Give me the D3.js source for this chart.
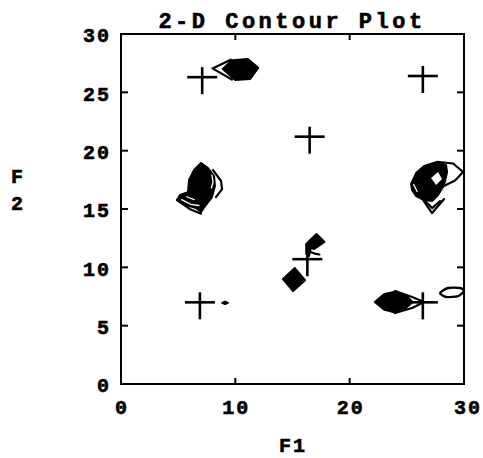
<!DOCTYPE html>
<html>
<head>
<meta charset="utf-8">
<script src="https://cdn.jsdelivr.net/npm/d3@7"></script>
<style>
  html, body { margin: 0; padding: 0; background: #fff; }
  svg text { font-family: "Liberation Mono", "Courier New", monospace; font-weight: bold; fill: #000; stroke: #000; stroke-width: 0.6px; }
</style>
</head>
<body>
<svg id="chart" width="483" height="458"></svg>
<script>
// ---------- data ----------
const titleText = "2-D Contour Plot";
const xLabel = "F1";
const yLabelChars = ["F", "2"];
const xTicks = [0, 10, 20, 30];
const yTicks = [0, 5, 10, 15, 20, 25, 30];
const frameTicksX = [10, 20];
const frameTicksY = [5, 10, 15, 20, 25];

// cross-peak markers (F1, F2)
const crossPeaks = [[7.1, 26.3], [26.4, 26.4], [16.5, 21.2], [16.3, 10.7], [6.9, 7.0], [26.4, 7.0]];

// filled (innermost) contour regions
const fillTop = [[8.9, 27.0], [9.7, 27.75], [11.1, 27.85], [12.0, 27.1], [11.3, 26.15], [10.0, 26.05]];
const fillLeft = [[7.0, 18.94], [7.61, 18.51], [8.14, 17.82], [8.22, 16.97], [7.96, 16.02], [7.35, 15.25], [7.0, 14.74], [6.56, 15.08], [5.69, 15.34], [4.9, 15.77], [5.16, 16.2], [5.86, 16.45], [5.95, 17.48], [6.39, 18.34]];
const fillRight = [[25.37, 17.14], [25.81, 18.08], [26.51, 18.68], [27.56, 19.02], [28.43, 18.77], [28.52, 18.17], [28.26, 17.05], [27.73, 16.2], [27.21, 15.68], [26.51, 15.77], [25.81, 16.11], [25.46, 16.62]];
const fillDiamond = [[14.17, 9.0], [15.2, 9.94], [16.1, 8.9], [15.05, 7.97]];
const fillSmall = [[17.1, 12.85], [17.8, 12.17], [16.9, 11.57], [16.6, 11.65], [16.45, 10.97], [16.2, 11.14], [16.2, 12.0]];
const fillBottom = [[22.2, 7.03], [23.0, 7.7], [23.97, 7.92], [24.9, 7.6], [25.5, 7.03], [24.9, 6.5], [23.97, 6.12], [23.0, 6.38]];
const fillDot = [[8.85, 6.95], [9.1, 7.05], [9.35, 6.95], [9.1, 6.85]];
const fillRegions = [fillTop, fillLeft, fillRight, fillDiamond, fillSmall, fillBottom, fillDot];

// outer contour lines (open paths)
const lineTop = [[9.6, 27.8], [8.0, 27.05], [9.7, 26.1]];
const lineLeftRight = [[8.05, 18.34], [8.75, 17.4], [8.84, 16.71], [8.31, 16.02]];
const lineLeftLow = [[4.9, 15.77], [6.1, 14.95], [7.0, 14.6]];
const lineRightArc = [[27.65, 19.05], [29.05, 18.9], [29.92, 18.17], [29.22, 17.45], [28.2, 16.95]];
const lineRightV1 = [[26.25, 16.02], [27.21, 14.65], [28.26, 15.85]];
const lineRightV2 = [[26.6, 15.68], [27.21, 15.08], [27.91, 15.68]];
const lineSmall = [[16.65, 11.3], [17.05, 11.15], [17.35, 11.1]];
const lineBottom = [[23.97, 7.97], [25.46, 7.46], [26.51, 7.03], [25.46, 6.51], [23.97, 6.08]];
const contourLines = [lineTop, lineLeftRight, lineLeftLow, lineRightArc, lineRightV1, lineRightV2, lineSmall, lineBottom];

// closed contour loop (far right)
const loopFarRight = [[27.91, 7.8], [28.61, 8.23], [29.66, 8.23], [30.0, 7.97], [29.48, 7.54], [28.43, 7.46]];

// white gaps inside filled regions
const holeRight = [[27.12, 17.65], [27.73, 18.17], [28.08, 17.57], [27.56, 17.05]];
const gapLeft1 = [[5.3, 15.8], [6.12, 15.4], [6.82, 15.3]];
const gapLeft2 = [[5.75, 16.05], [6.39, 15.8]];
const gapLeftRight = [[7.95, 17.9], [8.05, 17.3], [7.9, 16.8]];
const gapRight = [[25.6, 17.1], [25.9, 16.5]];

// ---------- drawing ----------
const svg = d3.select("#chart");
const x = d3.scaleLinear().domain([0, 30]).range([121, 464]);
const y = d3.scaleLinear().domain([0, 30]).range([384, 34]);

const lineGen = d3.line().x(d => x(d[0])).y(d => y(d[1]));
const closedGen = d3.line().x(d => x(d[0])).y(d => y(d[1])).curve(d3.curveLinearClosed);
const smoothClosed = d3.line().x(d => x(d[0])).y(d => y(d[1])).curve(d3.curveCardinalClosed.tension(0.3));

// fills
svg.append("g").selectAll("path").data(fillRegions).join("path")
  .attr("d", closedGen)
  .attr("fill", "#000").attr("stroke", "#000").attr("stroke-width", 2)
  .attr("stroke-linejoin", "round");

// contour lines
svg.append("g").selectAll("path").data(contourLines).join("path")
  .attr("d", lineGen)
  .attr("fill", "none").attr("stroke", "#000").attr("stroke-width", 2.2)
  .attr("stroke-linejoin", "round").attr("stroke-linecap", "round");

svg.append("path").datum(loopFarRight)
  .attr("d", smoothClosed)
  .attr("fill", "none").attr("stroke", "#000").attr("stroke-width", 2.4);

// white gaps
svg.append("path").datum(holeRight).attr("d", closedGen).attr("fill", "#fff");
svg.append("g").selectAll("path").data([gapLeft1, gapLeft2, gapLeftRight, gapRight]).join("path")
  .attr("d", lineGen).attr("fill", "none").attr("stroke", "#fff").attr("stroke-width", 1.3)
  .attr("stroke-linecap", "round");

// cross peaks
const cross = svg.append("g").attr("stroke", "#000").attr("stroke-width", 2.6);
crossPeaks.forEach(p => {
  const cx = x(p[0]), cy = y(p[1]);
  cross.append("line").attr("x1", cx - 15).attr("x2", cx + 15).attr("y1", cy).attr("y2", cy);
  cross.append("line").attr("x1", cx).attr("x2", cx).attr("y1", cy - 10).attr("y2", cy + 17);
});

// frame
svg.append("rect")
  .attr("x", x(0)).attr("y", y(30))
  .attr("width", x(30) - x(0)).attr("height", y(0) - y(30))
  .attr("fill", "none").attr("stroke", "#000").attr("stroke-width", 2);

// frame ticks (inward)
const tk = svg.append("g").attr("stroke", "#000").attr("stroke-width", 2);
frameTicksY.forEach(v => {
  tk.append("line").attr("x1", x(0)).attr("x2", x(0) + 7).attr("y1", y(v)).attr("y2", y(v));
  tk.append("line").attr("x1", x(30)).attr("x2", x(30) - 7).attr("y1", y(v)).attr("y2", y(v));
});
frameTicksX.forEach(v => {
  tk.append("line").attr("x1", x(v)).attr("x2", x(v)).attr("y1", y(0)).attr("y2", y(0) - 6);
  tk.append("line").attr("x1", x(v)).attr("x2", x(v)).attr("y1", y(30)).attr("y2", y(30) + 6);
});

// y tick labels
svg.append("g").selectAll("text").data(yTicks).join("text")
  .attr("x", 111).attr("y", d => y(d) + 1).attr("dy", "0.36em")
  .attr("text-anchor", "end")
  .attr("font-size", 20).attr("letter-spacing", 2)
  .text(d => d);

// x tick labels
svg.append("g").selectAll("text").data(xTicks).join("text")
  .attr("x", d => x(d) + (d === 30 ? 4 : 1)).attr("y", 414)
  .attr("text-anchor", "middle")
  .attr("font-size", 20).attr("letter-spacing", 2)
  .text(d => d);

// title
svg.append("text").attr("x", 292).attr("y", 28).attr("text-anchor", "middle")
  .attr("font-size", 22).attr("letter-spacing", 3.5)
  .text(titleText);

// axis labels
svg.append("text").attr("x", 293).attr("y", 452).attr("text-anchor", "middle")
  .attr("font-size", 20).attr("letter-spacing", 2)
  .text(xLabel);
svg.append("g").selectAll("text").data(yLabelChars).join("text")
  .attr("x", 17).attr("y", (d, i) => 183 + i * 27).attr("text-anchor", "middle")
  .attr("font-size", 20)
  .text(d => d);
</script>
</body>
</html>
